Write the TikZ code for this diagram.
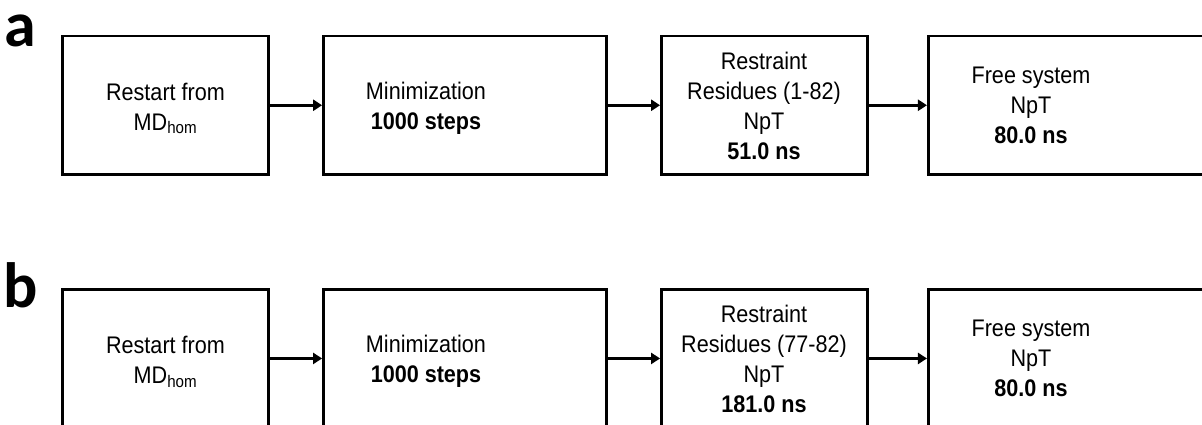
\documentclass[tikz,border=0pt]{standalone}
\usepackage{fontspec}
\setmainfont{Liberation Sans}
\newfontfamily\boxfont[FakeStretch=0.9]{Liberation Sans}
\newfontfamily\labfont{Carlito}
\usetikzlibrary{arrows.meta}
\begin{document}
\begin{tikzpicture}[x=1pt,y=-1pt,
  box/.style={draw=black, line width=2.8pt, inner sep=0pt, minimum height=138.5pt},
  txt/.style={font=\boxfont\fontsize{24}{30}\selectfont, align=center, inner sep=0pt},
  arr/.style={line width=2.7pt, -{Triangle[length=9pt,width=11pt]}},
  lab/.style={font=\labfont\bfseries\fontsize{64}{64}\selectfont, anchor=base west, inner sep=0pt}]
\useasboundingbox (0,0) rectangle (1202,425);
\clip (0,0) rectangle (1202,425);
% row a
\node[lab] (la) at (4,47) {a};
\node[box, minimum width=206pt] (a1) at (165.5,105.25) {};
\node[box, minimum width=283pt] (a2) at (465,105.25) {};
\node[box, minimum width=206pt] (a3) at (764.5,105.25) {};
\node[box, minimum width=286.7pt] (a4) at (1071.7,105.25) {};
\node[txt] (ta1) at (165.5,108.5) {Restart from\\MD\textsubscript{hom}};
\node[txt] (ta2) at (426,108) {Minimization\\\bfseries 1000 steps};
\node[txt] (ta3) at (764,105.75) {Restraint\\Residues (1-82)\\NpT\\\bfseries 51.0 ns};
\node[txt] (ta4) at (1031,105.25) {Free system\\NpT\\\bfseries 80.0 ns};
\draw[arr] (a1.east) -- (a2.west);
\draw[arr] (a2.east) -- (a3.west);
\draw[arr] (a3.east) -- (a4.west);
% row b
\node[lab] (lb) at (3,307) {b};
\node[box, minimum width=206pt] (b1) at (165.5,358.45) {};
\node[box, minimum width=283pt] (b2) at (465,358.45) {};
\node[box, minimum width=206pt] (b3) at (764.5,358.45) {};
\node[box, minimum width=286.7pt] (b4) at (1071.7,358.45) {};
\node[txt] (tb1) at (165.5,361.7) {Restart from\\MD\textsubscript{hom}};
\node[txt] (tb2) at (426,361.2) {Minimization\\\bfseries 1000 steps};
\node[txt] (tb3) at (764,358.95) {Restraint\\Residues (77-82)\\NpT\\\bfseries 181.0 ns};
\node[txt] (tb4) at (1031,358.45) {Free system\\NpT\\\bfseries 80.0 ns};
\draw[arr] (b1.east) -- (b2.west);
\draw[arr] (b2.east) -- (b3.west);
\draw[arr] (b3.east) -- (b4.west);
\end{tikzpicture}
\end{document}
